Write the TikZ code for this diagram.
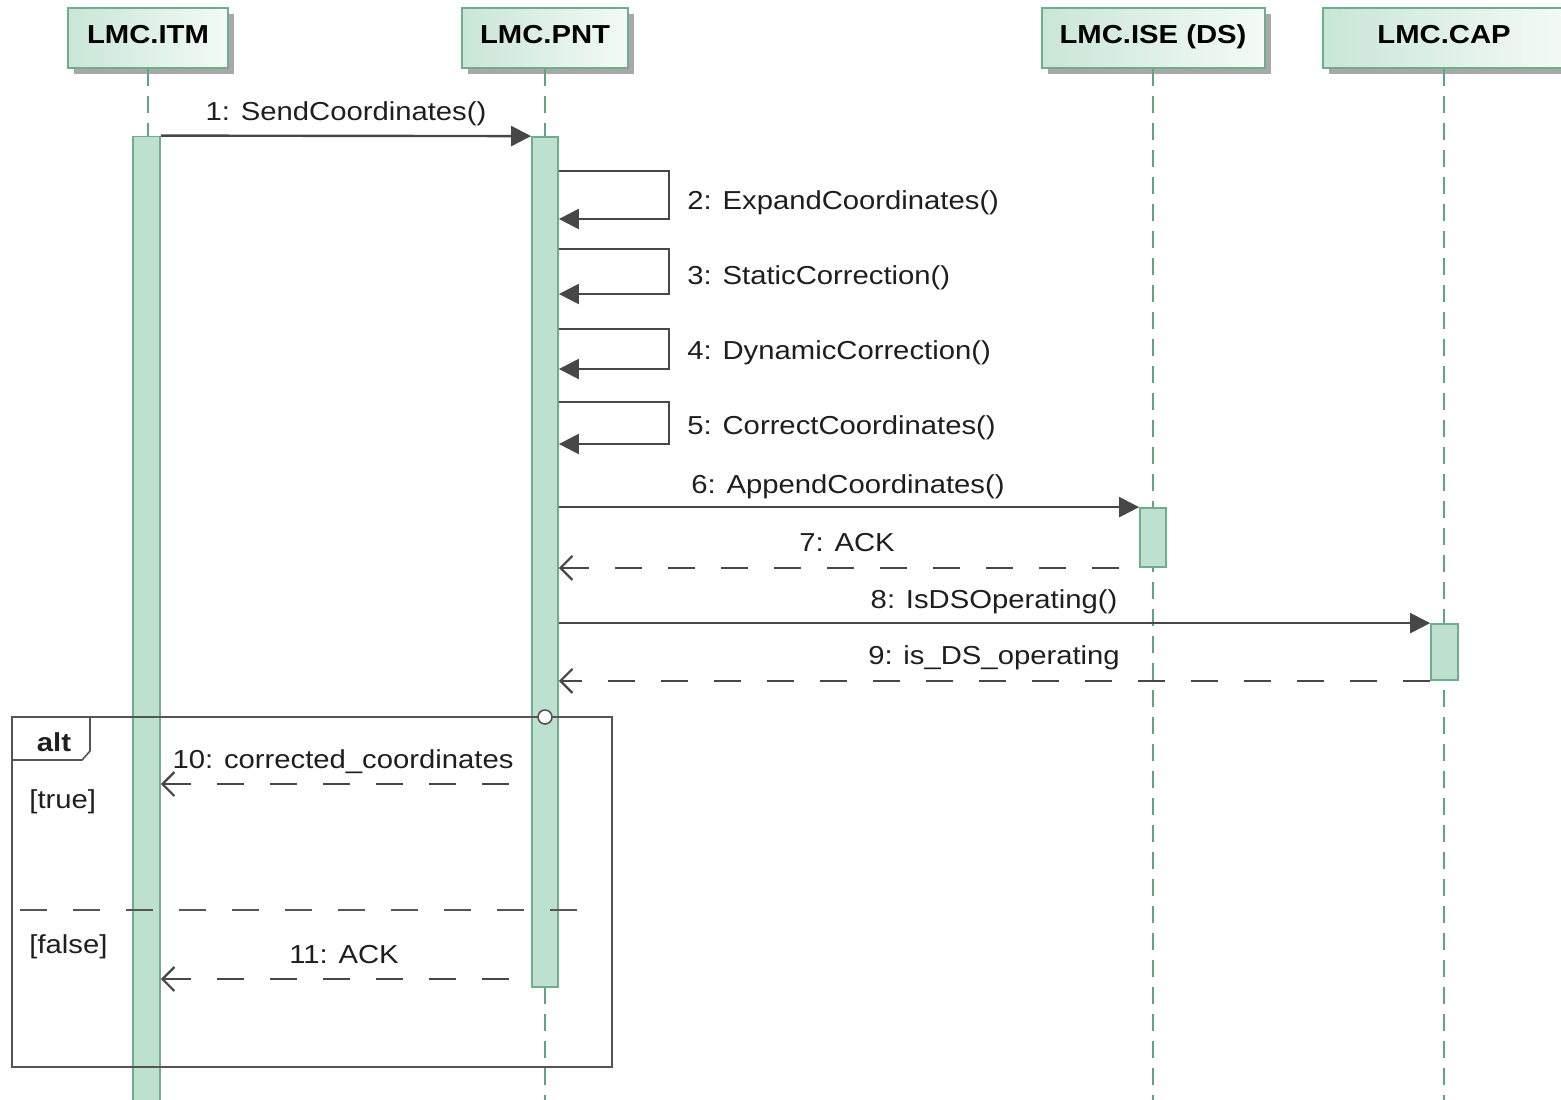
\documentclass[tikz,border=0pt]{standalone}
\usepackage{fontspec}
\setmainfont{Liberation Sans}[FakeStretch=1.125]
\usetikzlibrary{arrows.meta,shadows}

\definecolor{lifegreen}{HTML}{5FA47F}
\definecolor{barfill}{HTML}{BEE0CF}
\definecolor{barline}{HTML}{6FAE8C}
\definecolor{hdrfill}{HTML}{C9E6D6}
\definecolor{hdrline}{HTML}{6FAE8C}
\definecolor{msgcol}{HTML}{474747}
\definecolor{framecol}{HTML}{555555}
\definecolor{shadowgray}{HTML}{A8A8A8}
\definecolor{txt}{HTML}{1E1E1E}

\begin{document}
\begin{tikzpicture}[x=0.5pt,y=-0.5pt,
  font=\fontsize{13}{15}\selectfont,
  hdr/.style={draw=hdrline, line width=1pt, left color=hdrfill, right color=hdrfill!20!white,
    minimum height=30pt, inner sep=0pt, text height=9.5pt, text depth=4.5pt,
    font=\fontsize{13}{15}\selectfont\bfseries, text=black,
    drop shadow={shadow xshift=3pt, shadow yshift=-3pt, fill=shadowgray, opacity=1}},
  life/.style={draw=lifegreen, line width=1.2pt, dash pattern=on 8.5pt off 5pt},
  actbar/.style={draw=barline, fill=barfill, line width=0.9pt, inner sep=0pt},
  msg/.style={draw=msgcol, line width=1.2pt, -{Triangle[length=10pt,width=10pt]}},
  ret/.style={draw=msgcol, line width=1.3pt, dash pattern=on 13.5pt off 13pt,
    -{Straight Barb[length=6pt,width=12pt,line width=1.1pt]}},
  lbl/.style={anchor=base, text=txt, inner sep=0pt},
  lbll/.style={anchor=base west, text=txt, inner sep=0pt},
  framebox/.style={draw=framecol, line width=1pt}
]
\useasboundingbox (0,0) rectangle (1561,1099);

% participants
\node[hdr, minimum width=80pt]  (itm) at (148,38)    {LMC.ITM};
\node[hdr, minimum width=83pt]  (pnt) at (545,38)    {LMC.PNT};
\node[hdr, minimum width=111.5pt] (ise) at (1153,38) {LMC.ISE (DS)};
\node[hdr, minimum width=121pt] (cap) at (1444,38)   {LMC.CAP};

% lifeline ends
\coordinate (itmend) at (148,1120);
\coordinate (pntend) at (545,1120);
\coordinate (iseend) at (1153,1120);
\coordinate (capend) at (1444,1120);

\draw[life] (itm.south) -- (itmend);
\draw[life] (pnt.south) -- (pntend);
\draw[life] (ise.south) -- (iseend);
\draw[life] (cap.south) -- (capend);

% activation bars
\node[actbar, minimum width=13.5pt, minimum height=491.5pt] (itmbar) at (146.5,628) {};
\node[actbar, minimum width=13pt, minimum height=425pt]   (pntbar) at (545,562) {};
\node[actbar, minimum width=13pt, minimum height=29.5pt]  (isebar) at (1153,537.5) {};
\node[actbar, minimum width=13.5pt, minimum height=28pt]  (capbar) at (1444.5,652) {};

% 1: call from ITM to PNT
\draw[msg] (itmbar.north east) -- (pntbar.north west);
\node[lbl] (l1) at (346,120) {1: SendCoordinates()};

% 2-5: self calls on PNT
\draw[msg] (pntbar.east |- 0,171) -- ++(110,0) -- ++(0,48) -- (pntbar.east |- 0,219);
\node[lbll] (l2) at (687,209) {2: ExpandCoordinates()};
\draw[msg] (pntbar.east |- 0,249) -- ++(110,0) -- ++(0,45) -- (pntbar.east |- 0,294);
\node[lbll] (l3) at (687,284) {3: StaticCorrection()};
\draw[msg] (pntbar.east |- 0,329) -- ++(110,0) -- ++(0,40) -- (pntbar.east |- 0,369);
\node[lbll] (l4) at (687,359) {4: DynamicCorrection()};
\draw[msg] (pntbar.east |- 0,402) -- ++(110,0) -- ++(0,42) -- (pntbar.east |- 0,444);
\node[lbll] (l5) at (687,434) {5: CorrectCoordinates()};

% 6-7: PNT <-> ISE
\draw[msg] (pntbar.east |- isebar.north) -- (isebar.north west);
\node[lbl] (l6) at (848,493) {6: AppendCoordinates()};
\draw[ret, dash phase=16.5pt] (isebar.south west) -- (pntbar.east |- isebar.south);
\node[lbl] (l7) at (847,551) {7: ACK};

% 8-9: PNT <-> CAP
\draw[msg] (pntbar.east |- capbar.north) -- (capbar.north west);
\node[lbl] (l8) at (994,608) {8: IsDSOperating()};
\draw[ret] (capbar.south west) -- (pntbar.east |- capbar.south);
\node[lbl] (l9) at (994,664) {9: is\_DS\_operating};

% alt fragment
\draw[framebox] (12,717) rectangle (612,1067);
\draw[draw=framecol, line width=0.8pt] (12,760) -- (82,760) -- (90,751) -- (90,717);
\node[lbl, font=\fontsize{13}{15}\selectfont\bfseries] (alttag) at (54,751) {alt};
\draw[draw=framecol, fill=white, line width=0.8pt] (545,717) circle[radius=7];
\node[lbll] (gtrue) at (29,808) {[true]};
\draw[draw=framecol, line width=1.3pt, dash pattern=on 13.5pt off 13pt] (20,910) -- (584,910);
\node[lbll] (gfalse) at (29,953) {[false]};

% 10-11: replies to ITM
\draw[ret, dash phase=15.5pt] (pntbar.west |- 0,784) -- (itmbar.east |- 0,784);
\node[lbl] (l10) at (343,768) {10: corrected\_coordinates};
\draw[ret, dash phase=15.5pt] (pntbar.west |- 0,979) -- (itmbar.east |- 0,979);
\node[lbl] (l11) at (344,963) {11: ACK};
\end{tikzpicture}
\end{document}
